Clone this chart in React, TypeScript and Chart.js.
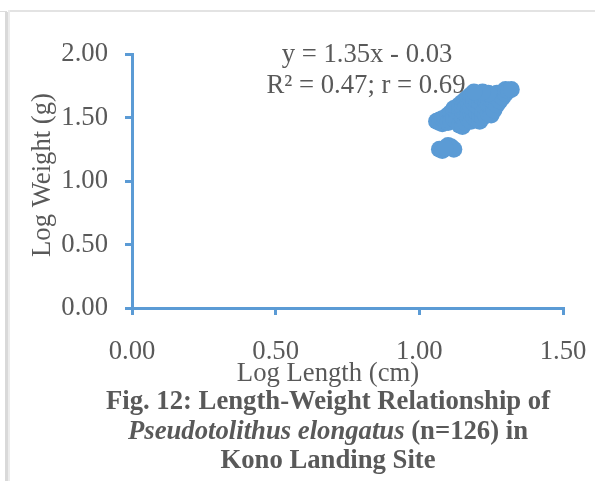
import { useEffect, useRef } from "react";
import { Chart, registerables } from "chart.js";

Chart.register(...registerables);

// ---- data ----
const logLength = [
  1.07, 1.08, 1.10, 1.11, 1.12, 1.09,
  1.06, 1.07, 1.07, 1.08, 1.08, 1.09, 1.09, 1.10, 1.10, 1.10,
  1.11, 1.11, 1.11, 1.12, 1.12, 1.12, 1.12, 1.13, 1.13, 1.13,
  1.13, 1.14, 1.14, 1.14, 1.14, 1.15, 1.15, 1.15, 1.15, 1.15,
  1.16, 1.16, 1.16, 1.16, 1.16, 1.17, 1.17, 1.17, 1.17, 1.17,
  1.18, 1.18, 1.18, 1.18, 1.18, 1.19, 1.19, 1.19, 1.19, 1.20,
  1.20, 1.20, 1.20, 1.20, 1.21, 1.21, 1.21, 1.21, 1.21, 1.22,
  1.22, 1.22, 1.22, 1.23, 1.23, 1.23, 1.23, 1.24, 1.24, 1.24,
  1.25, 1.25, 1.25, 1.25, 1.26, 1.26, 1.26, 1.27, 1.27, 1.27,
  1.28, 1.28, 1.29, 1.29, 1.30, 1.30, 1.31, 1.32, 1.24, 1.22,
  1.19,
];
const logWeight = [
  1.25, 1.24, 1.28, 1.27, 1.25, 1.26,
  1.47, 1.48, 1.46, 1.45, 1.49, 1.47, 1.50, 1.48, 1.52, 1.46,
  1.50, 1.54, 1.47, 1.52, 1.56, 1.49, 1.57, 1.50, 1.55, 1.58,
  1.47, 1.52, 1.57, 1.60, 1.44, 1.43, 1.50, 1.55, 1.62, 1.58,
  1.46, 1.53, 1.60, 1.64, 1.57, 1.49, 1.55, 1.62, 1.66, 1.52,
  1.47, 1.53, 1.58, 1.64, 1.68, 1.50, 1.56, 1.61, 1.66, 1.48,
  1.54, 1.59, 1.63, 1.69, 1.47, 1.52, 1.57, 1.62, 1.67, 1.50,
  1.55, 1.60, 1.65, 1.52, 1.58, 1.63, 1.67, 1.53, 1.60, 1.65,
  1.52, 1.58, 1.64, 1.68, 1.56, 1.62, 1.67, 1.60, 1.66, 1.69,
  1.63, 1.68, 1.66, 1.70, 1.69, 1.72, 1.71, 1.72, 1.69, 1.70,
  1.70,
];
const xTicks = [0, 0.5, 1.0, 1.5];
const yTicks = [0, 0.5, 1.0, 1.5, 2.0];
const equationLines = ["y = 1.35x - 0.03", "R\u00b2 = 0.47; r = 0.69"];
const xTitle = "Log Length (cm)";
const yTitle = "Log Weight (g)";
const captionLine1 = "Fig. 12: Length-Weight Relationship of";
const captionSpecies = "Pseudotolithus elongatus";
const captionLine2Rest = " (n=126) in";
const captionLine3 = "Kono Landing Site";

const FONT = "'Liberation Serif', 'Times New Roman', serif";
const FS = 26.7;
const TEXT = "#595959";
const BLUE = "#5b9bd5";

const textPlugin = {
  id: "textPlugin",
  afterDraw(chart: any) {
    const ctx = chart.ctx as CanvasRenderingContext2D;
    ctx.save();
    ctx.fillStyle = TEXT;
    ctx.textBaseline = "alphabetic";
    ctx.textAlign = "center";
    ctx.font = `${FS}px ${FONT}`;
    // equation
    ctx.fillText(equationLines[0], 367, 62);
    ctx.fillText(equationLines[1], 366, 93);
    // x title
    ctx.fillText(xTitle, 328, 381);
    // y title
    ctx.save();
    ctx.translate(50, 175);
    ctx.rotate(-Math.PI / 2);
    ctx.fillText(yTitle, 0, 0);
    ctx.restore();
    // caption
    const cx = 328;
    ctx.font = `bold ${FS}px ${FONT}`;
    ctx.fillText(captionLine1, cx, 409);
    ctx.textAlign = "left";
    const fontIt = `italic bold ${FS}px ${FONT}`;
    const fontB = `bold ${FS}px ${FONT}`;
    ctx.font = fontIt;
    const w1 = ctx.measureText(captionSpecies).width;
    ctx.font = fontB;
    const w2 = ctx.measureText(captionLine2Rest).width;
    const start = cx - (w1 + w2) / 2;
    ctx.font = fontIt;
    ctx.fillText(captionSpecies, start, 439);
    ctx.font = fontB;
    ctx.fillText(captionLine2Rest, start + w1, 439);
    ctx.textAlign = "center";
    ctx.fillText(captionLine3, cx, 468);
    ctx.restore();
  },
};

export default function App() {
  const ref = useRef<HTMLCanvasElement | null>(null);
  useEffect(() => {
    if (!ref.current) return;
    const points = logLength.map((x, i) => ({ x, y: logWeight[i] }));
    const chart = new Chart(ref.current, {
      type: "scatter",
      data: {
        datasets: [
          {
            data: points,
            backgroundColor: BLUE,
            borderColor: BLUE,
            borderWidth: 0,
            pointRadius: 8.5,
          },
        ],
      },
      options: {
        responsive: false,
        animation: false,
        devicePixelRatio: 1,
        layout: { padding: { left: 0, right: 32, top: 54, bottom: 93 } },
        plugins: { legend: { display: false }, tooltip: { enabled: false } },
        scales: {
          x: {
            type: "linear",
            min: 0,
            max: 1.5,
            afterBuildTicks: (s: any) => {
              s.ticks = xTicks.map((v) => ({ value: v }));
            },
            afterFit: (s: any) => {
              s.height = 80;
              s.paddingLeft = 0;
              s.paddingRight = 0;
            },
            ticks: {
              autoSkip: false,
              maxRotation: 0,
              padding: 21,
              color: TEXT,
              font: { family: FONT, size: FS },
              callback: (v: any) => Number(v).toFixed(2),
            },
            grid: {
              drawOnChartArea: false,
              drawTicks: true,
              tickLength: 7,
              color: BLUE,
              lineWidth: 3,
            },
            border: { color: BLUE, width: 3 },
          },
          y: {
            type: "linear",
            min: 0,
            max: 2,
            afterBuildTicks: (s: any) => {
              s.ticks = yTicks.map((v) => ({ value: v }));
            },
            afterFit: (s: any) => {
              s.width = 132;
              s.paddingTop = 0;
              s.paddingBottom = 0;
            },
            ticks: {
              autoSkip: false,
              padding: 17,
              color: TEXT,
              font: { family: FONT, size: FS },
              callback: (v: any) => Number(v).toFixed(2),
            },
            grid: {
              drawOnChartArea: false,
              drawTicks: true,
              tickLength: 7,
              color: BLUE,
              lineWidth: 3,
            },
            border: { color: BLUE, width: 3 },
          },
        },
      },
      plugins: [textPlugin],
    });
    return () => chart.destroy();
  }, []);

  return (
    <div style={{ position: "fixed", left: 0, top: 0, width: 595, height: 481, background: "#fff", overflow: "hidden" }}>
      <div style={{ position: "absolute", left: 0, top: 11, width: 7, height: 1, background: "#dcdcdc" }} />
      <div style={{ position: "absolute", left: 5, top: 12, width: 3, height: 469, background: "#d9d9d9" }} />
      <div style={{ position: "absolute", left: 8, top: 10, width: 587, height: 2, background: "#e3e3e3" }} />
      <div style={{ position: "absolute", left: 8, top: 10, width: 2, height: 471, background: "#ececec" }} />
      <canvas ref={ref} width={595} height={481} style={{ position: "absolute", left: 0, top: 0, width: 595, height: 481 }} />
    </div>
  );
}
